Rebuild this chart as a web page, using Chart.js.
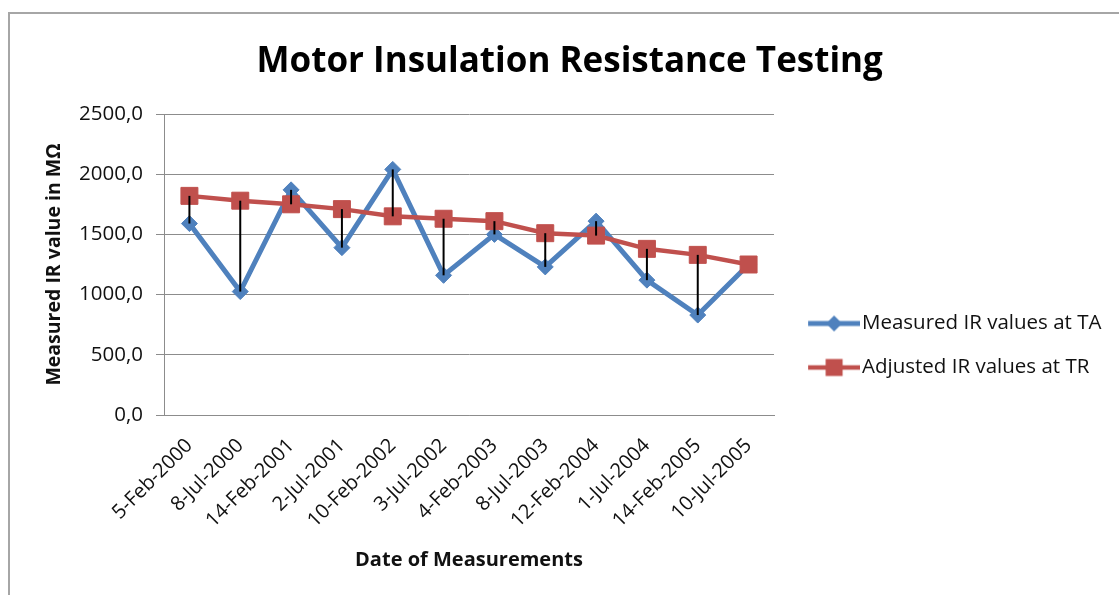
<!DOCTYPE html>
<html><head><meta charset="utf-8">
<script src="https://cdn.jsdelivr.net/npm/chart.js@4"></script>
<style>
html,body{margin:0;padding:0;background:#fff;width:1119px;height:595px;overflow:hidden}
#frame{position:absolute;left:8px;top:12px;width:1200px;height:700px;border-left:2px solid #a6a6a6;border-top:2px solid #a6a6a6}
#wrap{position:absolute;left:0;top:0;width:1119px;height:595px}
</style></head><body>
<div id="frame"></div>
<div id="wrap"><canvas id="c"></canvas></div>
<script>
const categories = ['5-Feb-2000','8-Jul-2000','14-Feb-2001','2-Jul-2001','10-Feb-2002','3-Jul-2002','4-Feb-2003','8-Jul-2003','12-Feb-2004','1-Jul-2004','14-Feb-2005','10-Jul-2005'];
const measuredTA = [1590, 1025, 1870, 1390, 2040, 1160, 1500, 1230, 1610, 1120, 830, 1250];
const adjustedTR = [1820, 1780, 1750, 1710, 1650, 1630, 1610, 1510, 1490, 1380, 1330, 1250];
const yTickMin = 0, yTickMax = 2500, yTickStep = 500;
const seriesNames = ['Measured IR values at TA', 'Adjusted IR values at TR'];
const chartTitle = 'Motor Insulation Resistance Testing';
const yTitle = 'Measured IR value in MΩ';
const xTitle = 'Date of Measurements';

const BLUE = '#4F81BD', RED = '#C0504D';
const FONT = '"Open Sans", Lato, sans-serif';
const TARGET_RIGHT = 774;

function makeIcon(color, shape) {
  const c = document.createElement('canvas');
  c.width = 71; c.height = 20;
  const g = c.getContext('2d');
  g.strokeStyle = color; g.fillStyle = color;
  g.lineWidth = shape === 'diamond' ? 5 : 4.5;
  g.beginPath(); g.moveTo(19, 10); g.lineTo(71, 10); g.stroke();
  g.beginPath();
  if (shape === 'diamond') {
    g.moveTo(45, 2); g.lineTo(53, 10); g.lineTo(45, 18); g.lineTo(37, 10); g.closePath();
  } else {
    g.rect(36.5, 1.5, 17, 17);
  }
  g.fill();
  return c;
}
const icons = [makeIcon(BLUE, 'diamond'), makeIcon(RED, 'square')];

const dropLines = {
  id: 'dropLines',
  afterDatasetsDraw(chart) {
    const xs = chart.scales.x, ys = chart.scales.y, ctx = chart.ctx;
    ctx.save();
    ctx.strokeStyle = '#000';
    ctx.lineWidth = 2;
    for (let i = 0; i < categories.length; i++) {
      const x = xs.getPixelForValue(i);
      ctx.beginPath();
      ctx.moveTo(x, ys.getPixelForValue(adjustedTR[i]));
      ctx.lineTo(x, ys.getPixelForValue(measuredTA[i]));
      ctx.stroke();
    }
    ctx.restore();
  }
};

const chart = new Chart(document.getElementById('c'), {
  type: 'line',
  data: {
    labels: categories,
    datasets: [
      { label: seriesNames[0], data: measuredTA, order: 2, borderColor: BLUE, backgroundColor: BLUE,
        borderWidth: 5, pointStyle: 'rectRot', pointRadius: 8, pointBorderWidth: 1,
        pointBackgroundColor: BLUE, pointBorderColor: BLUE, tension: 0, fill: false },
      { label: seriesNames[1], data: adjustedTR, order: 1, borderColor: RED, backgroundColor: RED,
        borderWidth: 4.5, pointStyle: 'rect', pointRadius: 12, pointBorderWidth: 1,
        pointBackgroundColor: RED, pointBorderColor: RED, tension: 0, fill: false }
    ]
  },
  options: {
    responsive: true, maintainAspectRatio: false, animation: false,
    events: [],
    layout: { padding: { left: 28, top: 20, right: 5, bottom: 20 } },
    plugins: {
      tooltip: { enabled: false },
      title: { display: true, text: chartTitle, color: '#000',
        font: { family: FONT, size: 35, weight: 'bold' }, padding: { top: 21.5, bottom: 30.5 } },
      legend: {
        position: 'right', fullSize: false, maxWidth: 420,
        title: { display: true, text: ' ', font: { size: 8 }, padding: { top: 152.4, bottom: 0 } },
        labels: {
          usePointStyle: true, pointStyleWidth: 54.25, padding: 23.5, color: '#111',
          font: { family: FONT, size: 20.5 },
          sort: (a, b) => a.datasetIndex - b.datasetIndex,
          generateLabels(ch) {
            const items = Chart.defaults.plugins.legend.labels.generateLabels(ch);
            items.forEach(it => { it.pointStyle = icons[it.datasetIndex]; });
            return items;
          }
        }
      }
    },
    scales: {
      x: {
        type: 'category', offset: true,
        grid: { display: false, drawTicks: false },
        border: { display: true, color: '#8c8c8c', width: 1 },
        ticks: { autoSkip: false, minRotation: 45, maxRotation: 45, padding: 19, color: '#111',
          font: { family: FONT, size: 20 } },
        title: { display: true, text: xTitle, color: '#111', font: { family: FONT, size: 20, weight: 'bold' },
          padding: { top: 4, bottom: 3 } },
        afterFit(s) { s.height = 160; }
      },
      y: {
        min: yTickMin, max: yTickMax,
        grid: { color: '#8c8c8c', lineWidth: 1, tickLength: 8 },
        border: { display: true, color: '#8c8c8c', width: 1 },
        ticks: { stepSize: yTickStep, padding: 13, color: '#111', font: { family: FONT, size: 20.5 },
          callback: v => Number(v).toFixed(1).replace('.', ',') },
        title: { display: true, text: yTitle, color: '#111', font: { family: FONT, size: 19.5, weight: 'bold' },
          padding: { top: 15, bottom: 4 } },
        afterFit(s) { s.width = 136; }
      }
    }
  },
  plugins: [dropLines]
});
for (let k = 0; k < 2; k++) {
  const delta = chart.chartArea.right - TARGET_RIGHT;
  if (Math.abs(delta) < 0.5) break;
  chart.options.layout.padding.right = Math.max(0, chart.options.layout.padding.right + delta);
  chart.update('none');
}
</script>
</body></html>
